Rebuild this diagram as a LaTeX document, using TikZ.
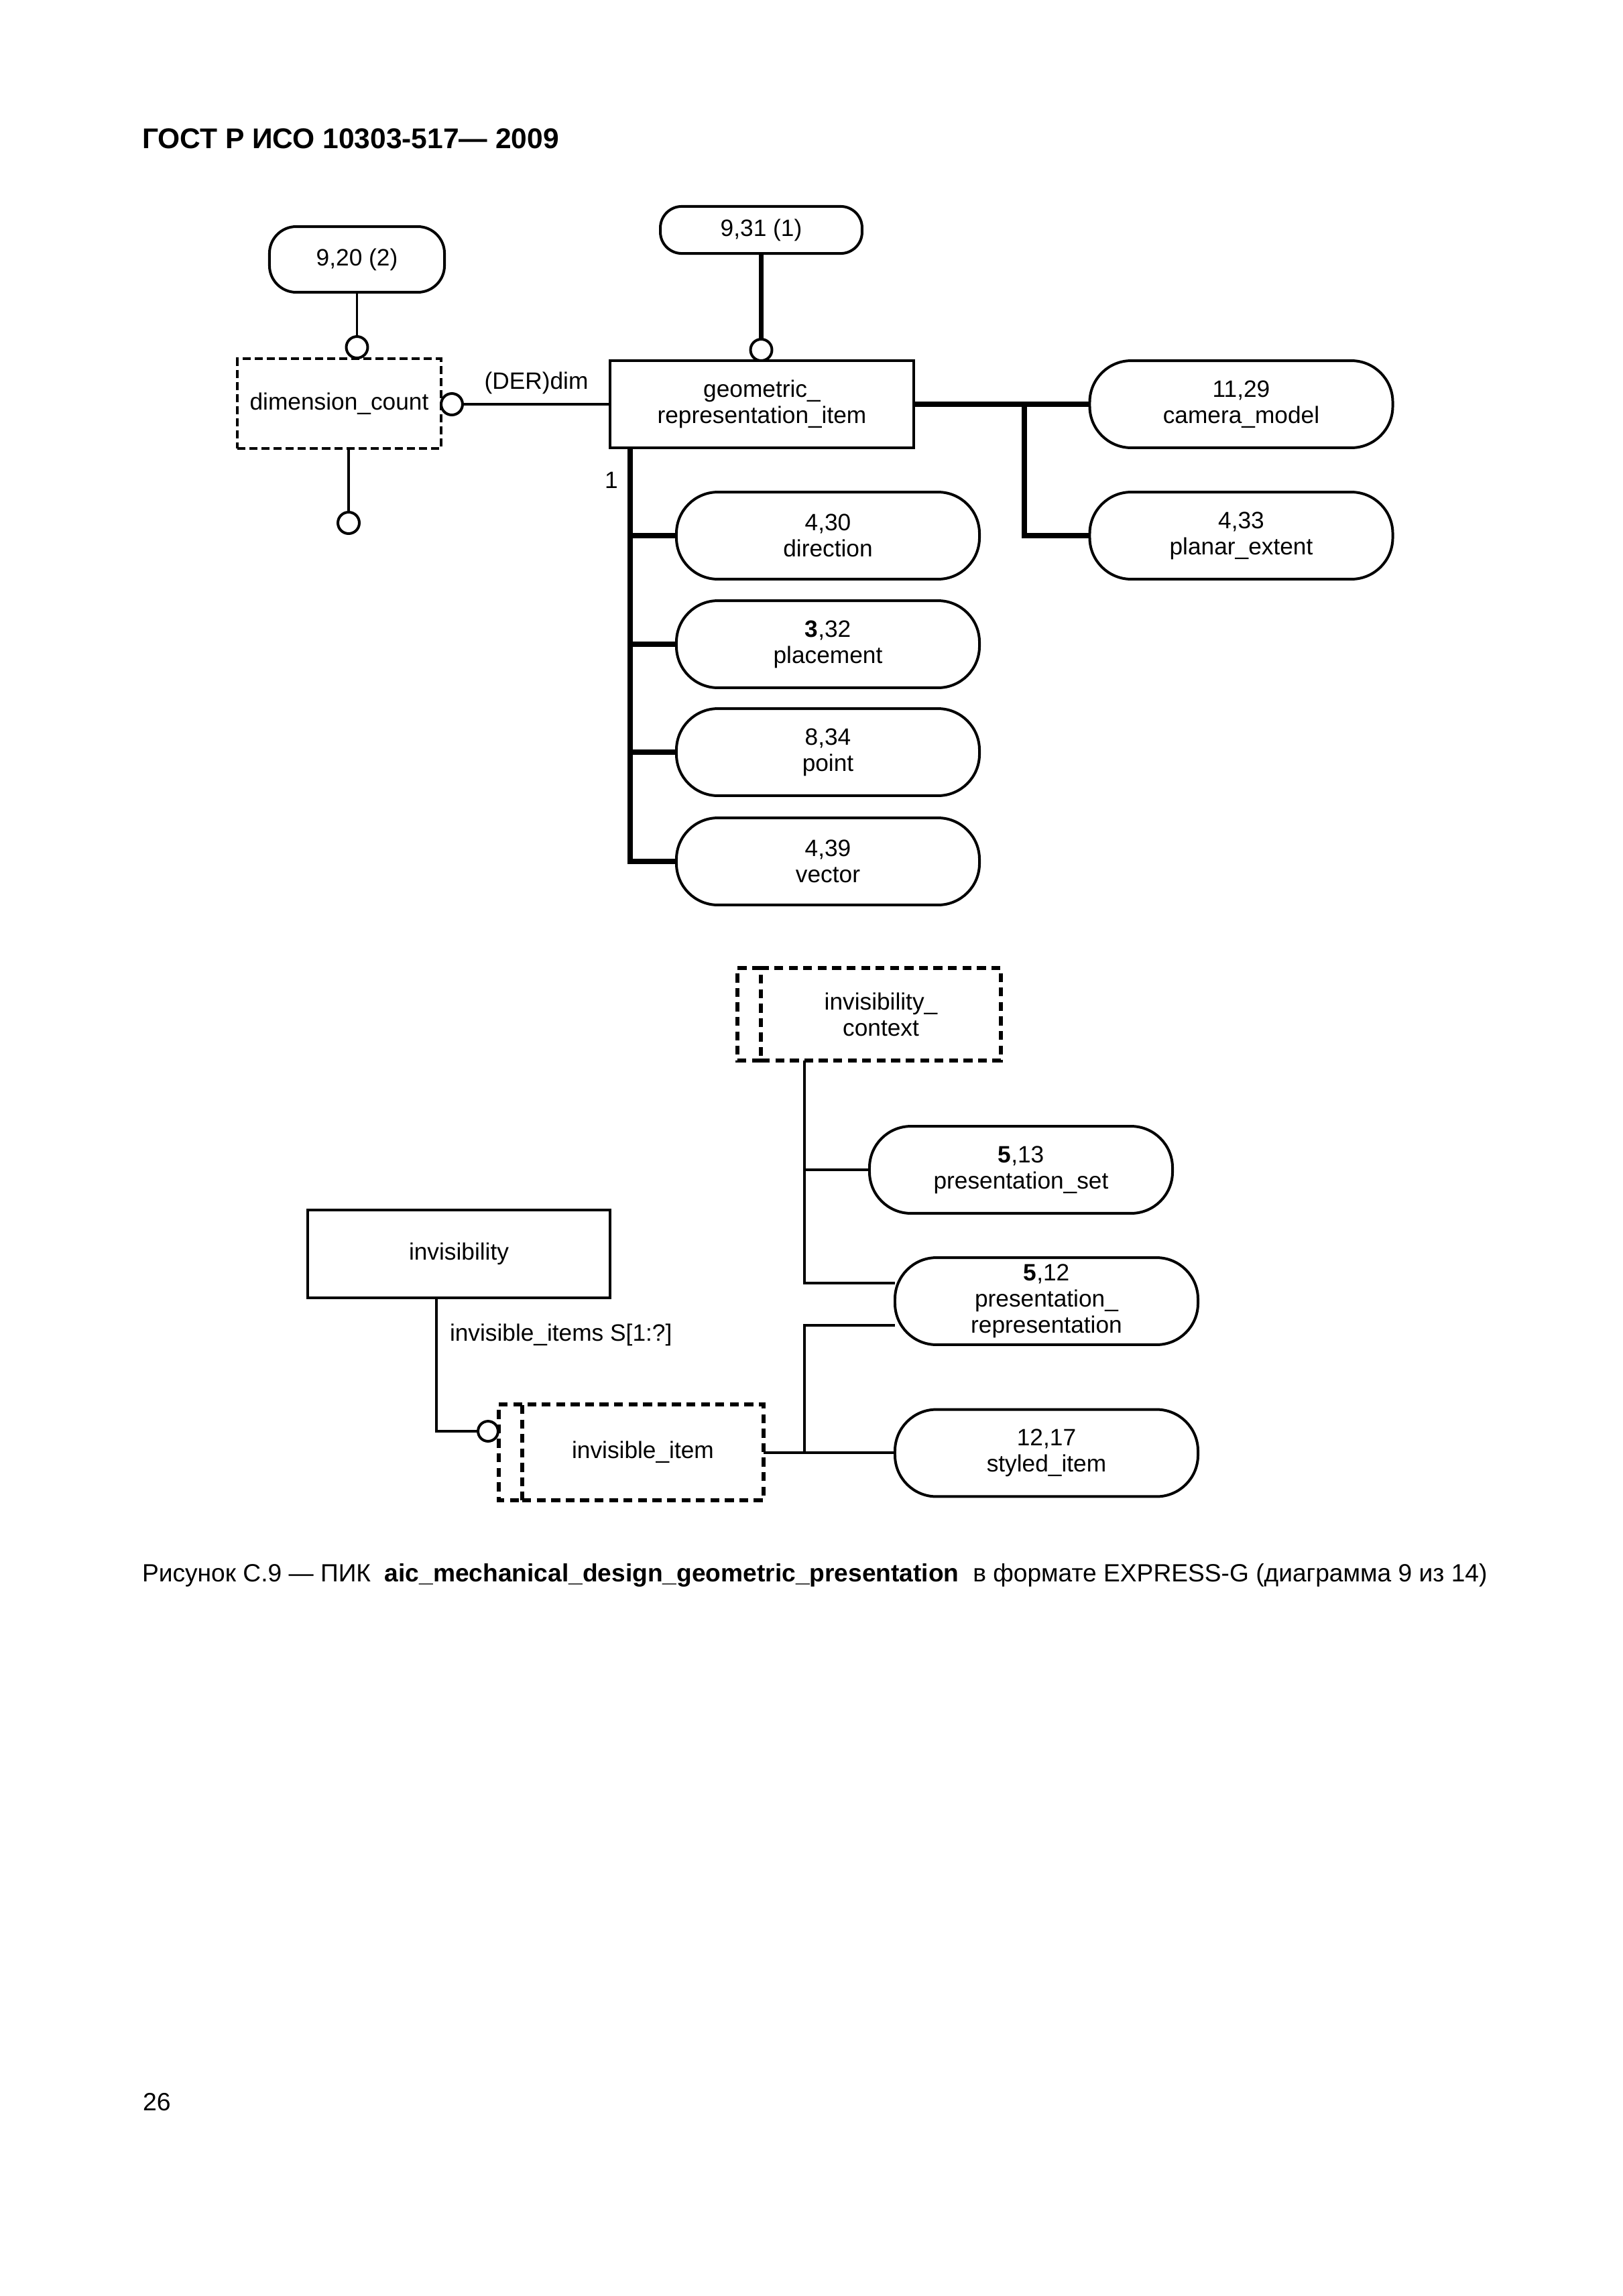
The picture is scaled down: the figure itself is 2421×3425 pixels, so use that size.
\documentclass[tikz,border=0pt]{standalone}
\usepackage{fontspec}
\setmainfont{Liberation Sans}
\usetikzlibrary{calc}
\pgfdeclarelayer{bg}
\pgfsetlayers{bg,main}
\begin{document}
\begin{tikzpicture}[x=0.2409pt,y=-0.2409pt,
  every node/.style={inner sep=0pt, outer sep=0pt, align=center, font=\fontsize{8.5pt}{9.4pt}\selectfont},
  ent/.style={draw, line width=0.96pt, fill=white, minimum width=109.1pt, minimum height=31.3pt},
  refr/.style={draw, line width=0.96pt, fill=white, rounded corners=14.9pt, minimum width=108.9pt, minimum height=31.3pt},
  typ/.style={draw, line width=0.8pt, dash pattern=on 2.9pt off 1.45pt, fill=white, minimum width=73.2pt, minimum height=32.3pt},
  seldash/.style={line width=1.4pt, dash pattern=on 3.2pt off 2pt},
  seltyp/.style={draw, seldash, fill=white},
  circ/.style={draw, circle, line width=0.96pt, fill=white, minimum size=7.7pt},
  thin/.style={line width=0.96pt},
  thick/.style={line width=1.8pt},
]
\useasboundingbox (0,0) rectangle (2421,3425);

% title, caption, page number
\node[anchor=base west, font=\fontsize{10.25pt}{12pt}\selectfont\bfseries] (title) at (212,221) {ГОСТ Р ИСО 10303-517— 2009};
\node[anchor=base west, font=\fontsize{8.95pt}{11pt}\selectfont] (caption) at (212,2359) {Рисунок С.9 — ПИК\ \ \textbf{aic\_mechanical\_design\_geometric\_presentation}\ \ в формате EXPRESS-G (диаграмма 9 из 14)};
\node[anchor=base west, font=\fontsize{9pt}{11pt}\selectfont] (page) at (213,3148) {26};

% upper diagram
\node[refr, minimum width=62.9pt, minimum height=23.6pt, rounded corners=9.6pt] (n920) at (532.5,387) {9,20 (2)};
\node[typ] (dimcount) at (506,602) {dimension\_count};
\node[circ] (c1) at (532.5,518) {};
\node[circ] (c2) at (520,780) {};
\node[circ] (c3) at (674,603) {};
\node (der) at (800,571) {(DER)dim};
\node[ent] (geo) at (1136.5,603) {geometric\_\\representation\_item};
\node[refr, minimum width=72.5pt, minimum height=16.9pt, rounded corners=7.7pt] (n931) at (1135.5,343) {9,31 (1)};
\node[circ] (c4) at (1135.5,522) {};
\node[refr] (camera) at (1851.5,603) {11,29\\camera\_model};
\node[refr] (planar) at (1851.5,799) {4,33\\planar\_extent};
\node[refr] (direction) at (1235,799) {4,30\\direction};
\node[refr] (placement) at (1235,961) {\textbf{3},32\\placement};
\node[refr] (point) at (1235,1122) {8,34\\point};
\node[refr] (vector) at (1235,1285) {4,39\\vector};
\node (one) at (912,716) {1};

% lower diagram
\node[seltyp, minimum width=86.2pt, minimum height=33.2pt] (invctx) at (1314,1513) {invisibility\_\\context};
\draw[seldash] (invctx.north west) -- ([xshift=-8.43pt]invctx.north west) -- ([xshift=-8.43pt]invctx.south west) -- (invctx.south west);
\node[refr] (presset) at (1523,1745) {\textbf{5},13\\presentation\_set};
\node[refr] (presrep) at (1561,1941) {\textbf{5},12\\presentation\_\\representation};
\node[refr] (styled) at (1561,2167.5) {12,17\\styled\_item};
\node[ent, minimum width=108.6pt, minimum height=31.6pt] (invis) at (684.5,1870.5) {invisibility};
\node[seltyp, minimum width=86.7pt, minimum height=34.4pt] (invitem) at (959,2166.5) {invisible\_item};
\draw[seldash] (invitem.north west) -- ([xshift=-8.43pt]invitem.north west) -- ([xshift=-8.43pt]invitem.south west) -- (invitem.south west);
\node[circ, minimum size=7.2pt] (c5) at (728,2135) {};
\node[anchor=west] (items) at (671,1991) {invisible\_items S[1:?]};

\coordinate (trunkL) at (940,0);
\coordinate (trunkR) at (1528,0);
\coordinate (trunkB) at (1200,0);
\coordinate (trunkI) at (651,0);
\coordinate (prUp) at ([yshift=6.5pt]presrep.west);
\coordinate (prDn) at ([yshift=-8.7pt]presrep.west);

\begin{pgfonlayer}{bg}
\fill[white] (0,0) rectangle (2421,3425);
% thin connectors (upper)
\draw[thin] (n920.south) -- (c1.north);
\draw[thin] (dimcount.south -| c2) -- (c2.north);
\draw[thin] (c3.east) -- (geo.west);
% thick connectors (upper)
\draw[thick] (n931.south) -- (c4.north);
\draw[thick] (geo.east) -- (camera.west);
\draw[thick] (trunkR |- geo.east) -- (trunkR |- planar.west) -- (planar.west);
\draw[thick] (trunkL |- geo.south) -- (trunkL |- vector.west) -- (vector.west);
\draw[thick] (trunkL |- direction.west) -- (direction.west);
\draw[thick] (trunkL |- placement.west) -- (placement.west);
\draw[thick] (trunkL |- point.west) -- (point.west);
% lower connectors
\draw[thin] (invctx.south -| trunkB) -- (trunkB |- prUp) -- (prUp);
\draw[thin] (trunkB |- presset.west) -- (presset.west);
\draw[thin] (invitem.east) -- (invitem.east -| styled.west);
\draw[thin] (trunkB |- invitem.east) -- (trunkB |- prDn) -- (prDn);
\draw[thin] (invis.south -| trunkI) -- (trunkI |- c5) -- (c5.west);
\end{pgfonlayer}
\end{tikzpicture}
\end{document}
